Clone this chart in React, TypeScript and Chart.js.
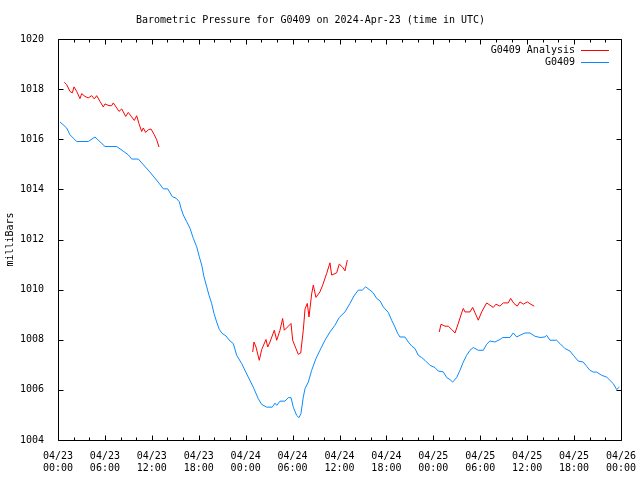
import React, { useEffect, useRef } from 'react';
import { Chart, registerables } from 'chart.js';

Chart.register(...registerables);

const chartTitle = 'Barometric Pressure for G0409 on 2024-Apr-23 (time in UTC)';
const yAxisTitle = 'milliBars';
const seriesNames = ['G0409 Analysis', 'G0409'];
const seriesColors = ['#ff0000', '#0a8aff'];

const xTickDates = ['04/23', '04/23', '04/23', '04/23', '04/24', '04/24', '04/24', '04/24', '04/25', '04/25', '04/25', '04/25', '04/26'];
const xTickTimes = ['00:00', '06:00', '12:00', '18:00', '00:00', '06:00', '12:00', '18:00', '00:00', '06:00', '12:00', '18:00', '00:00'];
const xMinHours = 0;
const xMaxHours = 72;
const xMajorStepHours = 6;
const xMinorStepHours = 2;
const yMin = 1004;
const yMax = 1020;
const yStep = 2;

// G0409 observed pressure (hours since 04/23 00:00 UTC)
const stationHours = [
  0.26, 1.11, 1.53, 2.39, 3.87, 4.73, 6.01, 7.51, 8.99, 9.42, 10.27, 11.76, 12.28, 12.92, 13.47, 14.03,
  14.62, 15.09, 15.51, 15.73, 16.02, 16.46, 16.88, 17.3, 17.74, 18.07, 18.38, 18.67, 19.02, 19.31, 19.65,
  19.95, 20.29, 20.63, 20.97, 21.48, 22.0, 22.42, 22.85, 23.49, 24.33, 24.97, 25.61, 26.05, 26.69, 27.4,
  27.75, 27.97, 28.39, 29.03, 29.45, 29.8, 30.09, 30.52, 30.82, 31.07, 31.37, 31.59, 32.01, 32.44, 32.99,
  33.5, 34.14, 34.78, 35.42, 35.97, 36.7, 37.34, 37.85, 38.4, 38.91, 39.35, 39.9, 40.32, 40.75, 41.18,
  41.6, 42.24, 42.67, 43.09, 43.44, 43.73, 44.37, 44.8, 45.23, 45.65, 46.07, 46.51, 46.93, 47.57, 48.21,
  48.63, 49.27, 49.71, 50.13, 50.47, 50.98, 51.41, 51.83, 52.26, 52.69, 53.11, 53.75, 54.39, 54.82, 55.24,
  55.88, 56.52, 56.87, 57.8, 58.22, 58.66, 59.08, 59.72, 60.36, 61.0, 61.64, 62.28, 62.49, 62.92, 63.77,
  64.19, 64.83, 65.47, 65.9, 66.53, 67.17, 67.61, 68.03, 68.45, 68.89, 69.53, 70.17, 70.59, 71.01, 71.45,
  71.78,
];
const stationValues = [
  1016.69, 1016.45, 1016.18, 1015.91, 1015.91, 1016.09, 1015.71, 1015.71, 1015.38, 1015.21, 1015.21, 1014.69, 1014.49, 1014.25, 1014.02, 1014.02,
  1013.71, 1013.65, 1013.51, 1013.25, 1012.98, 1012.71, 1012.45, 1012.05, 1011.71, 1011.31, 1010.98, 1010.51, 1010.11, 1009.78, 1009.45,
  1009.05, 1008.71, 1008.41, 1008.26, 1008.15, 1007.95, 1007.85, 1007.38, 1007.05, 1006.51, 1006.11, 1005.65, 1005.42, 1005.31, 1005.31,
  1005.47, 1005.38, 1005.55, 1005.55, 1005.69, 1005.69, 1005.31, 1004.98, 1004.89, 1005.05, 1005.71, 1006.05, 1006.31, 1006.78, 1007.25,
  1007.58, 1007.98, 1008.31, 1008.58, 1008.89, 1009.11, 1009.45, 1009.75, 1009.98, 1009.98, 1010.11, 1009.98, 1009.87, 1009.65, 1009.55,
  1009.31, 1009.09, 1008.78, 1008.51, 1008.25, 1008.11, 1008.11, 1007.91, 1007.75, 1007.65, 1007.38, 1007.29, 1007.18, 1006.98, 1006.89,
  1006.75, 1006.72, 1006.49, 1006.41, 1006.31, 1006.49, 1006.78, 1007.11, 1007.38, 1007.58, 1007.69, 1007.58, 1007.58, 1007.82, 1007.95,
  1007.91, 1008.01, 1008.09, 1008.09, 1008.27, 1008.11, 1008.18, 1008.27, 1008.27, 1008.14, 1008.09, 1008.11, 1008.18, 1007.98, 1007.98,
  1007.85, 1007.65, 1007.55, 1007.38, 1007.15, 1007.11, 1006.94, 1006.78, 1006.71, 1006.71, 1006.58, 1006.51, 1006.38, 1006.25, 1006.01,
  1006.11,
];

// G0409 analysis, three separate runs
const analysisHours1 = [
  0.81, 1.11, 1.53, 1.83, 2.05, 2.39, 2.81, 3.03, 3.45, 3.87, 4.31, 4.64, 4.95, 5.37, 5.79, 6.01, 6.52, 6.87,
  7.07, 7.51, 7.8, 8.15, 8.66, 8.99, 9.42, 9.76, 10.06, 10.36, 10.7, 10.91, 11.21, 11.55, 11.89, 12.31, 12.62, 12.92,
];
const analysisValues1 = [
  1018.27, 1018.18, 1017.91, 1017.85, 1018.09, 1017.91, 1017.62, 1017.82, 1017.71, 1017.65, 1017.74, 1017.61, 1017.74,
  1017.51, 1017.29, 1017.41, 1017.34, 1017.34, 1017.45, 1017.25, 1017.11, 1017.21, 1016.91, 1017.07, 1016.89, 1016.75,
  1016.94, 1016.62, 1016.31, 1016.45, 1016.27, 1016.38, 1016.41, 1016.18, 1015.98, 1015.69,
];
const analysisHours2 = [
  24.9, 25.06, 25.32, 25.74, 26.05, 26.6, 26.82, 27.11, 27.66, 27.97, 28.39, 28.73, 28.94, 29.8, 30.01, 30.43, 30.73,
  31.04, 31.37, 31.59, 31.88, 32.1, 32.44, 32.65, 32.99, 33.5, 33.85, 34.36, 34.78, 35.0, 35.64, 35.97, 36.41, 36.7, 37.0,
];
const analysisValues2 = [
  1007.51, 1007.91, 1007.71, 1007.18, 1007.61, 1008.01, 1007.71, 1007.91, 1008.38, 1007.98, 1008.38, 1008.85, 1008.38,
  1008.65, 1007.98, 1007.65, 1007.42, 1007.47, 1008.38, 1009.23, 1009.45, 1008.91, 1009.83, 1010.18, 1009.69, 1009.91,
  1010.18, 1010.65, 1011.07, 1010.58, 1010.67, 1011.02, 1010.89, 1010.75, 1011.18,
];
const analysisHours3 = [
  48.76, 48.98, 49.49, 49.91, 50.35, 50.77, 51.19, 51.62, 51.83, 52.05, 52.69, 53.03, 53.75, 54.18, 54.82, 55.24,
  55.67, 56.01, 56.52, 56.94, 57.58, 57.89, 58.31, 58.73, 59.08, 59.51, 60.01, 60.45, 60.91,
];
const analysisValues3 = [
  1008.31, 1008.62, 1008.54, 1008.54, 1008.41, 1008.27, 1008.65, 1009.07, 1009.25, 1009.11, 1009.11, 1009.29, 1008.78,
  1009.11, 1009.47, 1009.38, 1009.29, 1009.42, 1009.34, 1009.47, 1009.47, 1009.65, 1009.45, 1009.34, 1009.51, 1009.42,
  1009.51, 1009.42, 1009.34,
];

const FONT = '"DejaVu Sans Mono", "Liberation Mono", monospace';

function toPoints(hours: number[], values: number[]) {
  return hours.map((h, i) => ({ x: h, y: values[i] as number | null }));
}

function joinSegments(segs: { x: number; y: number | null }[][]) {
  const out: { x: number; y: number | null }[] = [];
  segs.forEach((s, i) => {
    if (i > 0) {
      const prev = segs[i - 1];
      out.push({ x: (prev[prev.length - 1].x + s[0].x) / 2, y: null });
    }
    out.push(...s);
  });
  return out;
}

const frameTicksLegend = {
  id: 'frameTicksLegend',
  afterDatasetsDraw(chart: any) {
    const { ctx, chartArea: a, scales } = chart;
    const xs = scales.x;
    const ys = scales.y;
    const L = Math.round(a.left) + 0.5;
    const R = Math.round(a.right) + 0.5;
    const T = Math.round(a.top) + 0.5;
    const B = Math.round(a.bottom) + 0.5;
    ctx.save();
    ctx.strokeStyle = '#000';
    ctx.lineWidth = 1;
    ctx.beginPath();
    ctx.rect(L, T, R - L, B - T);
    for (let v = xs.min; v <= xs.max + 1e-6; v += xMinorStepHours) {
      const major = Math.abs(v % xMajorStepHours) < 1e-6;
      const len = major ? 5 : 3;
      const px = Math.round(xs.getPixelForValue(v)) + 0.5;
      ctx.moveTo(px, B);
      ctx.lineTo(px, B - len);
      ctx.moveTo(px, T);
      ctx.lineTo(px, T + len);
    }
    ys.ticks.forEach((t: any) => {
      const py = Math.round(ys.getPixelForValue(t.value)) + 0.5;
      ctx.moveTo(L, py);
      ctx.lineTo(L + 5, py);
      ctx.moveTo(R, py);
      ctx.lineTo(R - 5, py);
    });
    ctx.stroke();

    // gnuplot-style legend: text left, sample line right
    ctx.font = '10px ' + FONT;
    ctx.textAlign = 'right';
    ctx.textBaseline = 'middle';
    chart.data.datasets.forEach((ds: any, i: number) => {
      const y = Math.round(a.top + 11 + i * 12) + 0.5;
      ctx.fillStyle = '#000';
      ctx.fillText(ds.label, a.right - 46, y);
      ctx.strokeStyle = ds.borderColor;
      ctx.beginPath();
      ctx.moveTo(a.right - 40, y);
      ctx.lineTo(a.right - 12, y);
      ctx.stroke();
    });
    ctx.restore();
  },
};

export default function App() {
  const ref = useRef<HTMLCanvasElement | null>(null);

  useEffect(() => {
    if (!ref.current) return;
    const analysis = joinSegments([
      toPoints(analysisHours1, analysisValues1),
      toPoints(analysisHours2, analysisValues2),
      toPoints(analysisHours3, analysisValues3),
    ]);
    const station = toPoints(stationHours, stationValues);
    const chart = new Chart(ref.current, {
      type: 'line',
      data: {
        datasets: [
          {
            label: seriesNames[0],
            data: analysis as any,
            borderColor: seriesColors[0],
            borderWidth: 1,
            pointRadius: 0,
            tension: 0,
            spanGaps: false,
          },
          {
            label: seriesNames[1],
            data: station as any,
            borderColor: seriesColors[1],
            borderWidth: 1,
            pointRadius: 0,
            tension: 0,
          },
        ],
      },
      options: {
        animation: false,
        responsive: false,
        devicePixelRatio: 1,
        events: [],
        layout: { padding: { left: 0, right: 19, top: 0, bottom: 0 } },
        plugins: {
          legend: { display: false },
          tooltip: { enabled: false },
          title: {
            display: true,
            text: chartTitle,
            color: '#000',
            font: { family: FONT, size: 10, weight: 'normal' as any, lineHeight: 1.2 },
            padding: { top: 14, bottom: 13 },
          },
        },
        scales: {
          x: {
            type: 'linear',
            min: xMinHours,
            max: xMaxHours,
            grid: { display: false },
            border: { display: false },
            afterFit: (s: any) => {
              s.height = 40;
              s.paddingLeft = 0;
              s.paddingRight = 0;
            },
            afterBuildTicks: (s: any) => {
              const t = [];
              for (let v = xMinHours; v <= xMaxHours; v += xMajorStepHours) t.push({ value: v });
              s.ticks = t;
            },
            ticks: {
              autoSkip: false,
              maxRotation: 0,
              minRotation: 0,
              padding: 2,
              color: '#000',
              font: { family: FONT, size: 10, lineHeight: 1.2 },
              callback: (_v: any, i: number) => [xTickDates[i], xTickTimes[i]],
            },
          },
          y: {
            type: 'linear',
            min: yMin,
            max: yMax,
            grid: { display: false },
            border: { display: false },
            afterFit: (s: any) => {
              s.width = 58;
              s.paddingTop = 0;
              s.paddingBottom = 0;
            },
            title: {
              display: true,
              text: yAxisTitle,
              color: '#000',
              font: { family: FONT, size: 10, lineHeight: 1.2 },
              padding: { top: 4, bottom: 0 },
            },
            ticks: {
              stepSize: yStep,
              padding: 6,
              color: '#000',
              font: { family: FONT, size: 10, lineHeight: 1.2 },
              callback: (v: any) => String(v),
            },
          },
        },
      },
      plugins: [frameTicksLegend],
    });
    return () => chart.destroy();
  }, []);

  return (
    <div style={{ position: 'absolute', left: 0, top: 0, width: 640, height: 480, background: '#fff' }}>
      <canvas ref={ref} width={640} height={480} />
    </div>
  );
}
